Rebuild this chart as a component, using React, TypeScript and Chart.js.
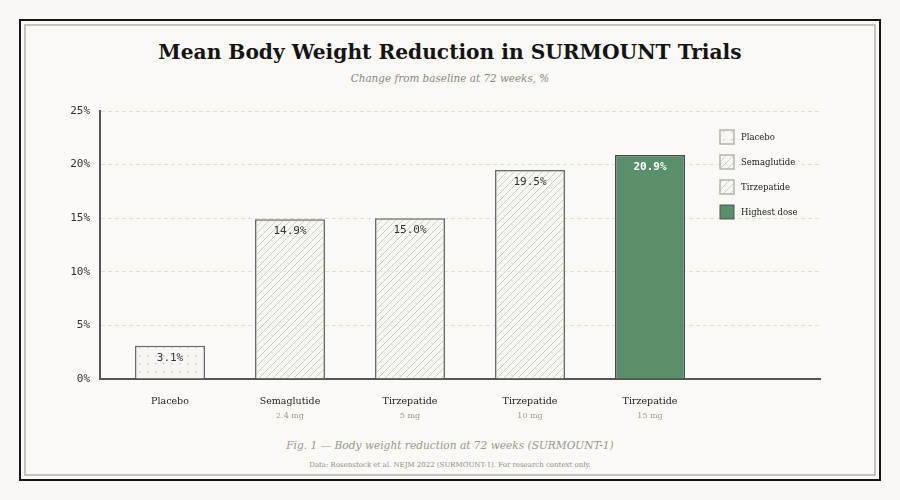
import { useEffect, useRef } from 'react';
import { Chart, registerables } from 'chart.js';

Chart.register(...registerables);

// Trial arms and their mean weight reduction at 72 weeks (%)
const categories = ['Placebo', 'Semaglutide', 'Tirzepatide', 'Tirzepatide', 'Tirzepatide'];
const doses = ['', '2.4 mg', '5 mg', '10 mg', '15 mg'];
const reductions = [3.1, 14.9, 15.0, 19.5, 20.9];
const barKinds = ['dots', 'hatch', 'hatch', 'hatch', 'solid'];
const yTicks = [0, 5, 10, 15, 20, 25];
const legendLabels = ['Placebo', 'Semaglutide', 'Tirzepatide', 'Highest dose'];
const legendKinds = ['dots', 'hatch', 'hatch', 'solid'];

const SERIF = '"DejaVu Serif", Georgia, serif';
const MONO = '"DejaVu Sans Mono", monospace';
const GREEN = '#5a8f6c';
const PAPER = '#f9f8f4';

function hatchPattern(ctx: CanvasRenderingContext2D, bg: string, line: string) {
  const s = 7;
  const c = document.createElement('canvas');
  c.width = s;
  c.height = s;
  const g = c.getContext('2d')!;
  g.fillStyle = bg;
  g.fillRect(0, 0, s, s);
  g.strokeStyle = line;
  g.lineWidth = 1;
  g.beginPath();
  g.moveTo(0, s);
  g.lineTo(s, 0);
  g.moveTo(-1, 1);
  g.lineTo(1, -1);
  g.moveTo(s - 1, s + 1);
  g.lineTo(s + 1, s - 1);
  g.stroke();
  return ctx.createPattern(c, 'repeat')!;
}

function dotPattern(ctx: CanvasRenderingContext2D, bg: string, dot: string) {
  const c = document.createElement('canvas');
  c.width = 8;
  c.height = 8;
  const g = c.getContext('2d')!;
  g.fillStyle = bg;
  g.fillRect(0, 0, 8, 8);
  g.fillStyle = dot;
  g.fillRect(3, 3, 1.5, 1.5);
  return ctx.createPattern(c, 'repeat')!;
}

export default function App() {
  const canvasRef = useRef<HTMLCanvasElement>(null);

  useEffect(() => {
    const canvas = canvasRef.current!;
    const ctx = canvas.getContext('2d')!;
    const fills: Record<string, CanvasPattern | string> = {
      dots: dotPattern(ctx, 'rgba(247,246,242,0.85)', '#cfccc4'),
      hatch: hatchPattern(ctx, 'rgba(247,246,242,0.6)', '#d0cdc5'),
      solid: GREEN,
    };

    const annotate = {
      id: 'annotate',
      afterDatasetsDraw(chart: any) {
        const c = chart.ctx;
        const meta = chart.getDatasetMeta(0);
        c.save();
        c.textAlign = 'center';
        c.textBaseline = 'middle';
        meta.data.forEach((bar: any, i: number) => {
          const solid = barKinds[i] === 'solid';
          c.font = `${solid ? 'bold ' : ''}11px ${MONO}`;
          c.fillStyle = solid ? '#ffffff' : '#333333';
          c.fillText(reductions[i].toFixed(1) + '%', bar.x, bar.y + 12);
        });
        // dose line under each arm name
        const xs = chart.scales.x;
        c.font = `8px ${SERIF}`;
        c.fillStyle = '#9a978f';
        doses.forEach((d, i) => {
          if (d) c.fillText(d, xs.getPixelForValue(i), 416);
        });
        c.restore();
      },
      afterDraw(chart: any) {
        const c = chart.ctx;
        c.save();
        legendLabels.forEach((label, i) => {
          const y = 137 + i * 25;
          const kind = legendKinds[i];
          c.fillStyle = fills[kind];
          c.fillRect(720, y - 7, 14, 14);
          c.lineWidth = kind === 'solid' ? 1 : 1.5;
          c.strokeStyle = kind === 'solid' ? '#555555' : '#b5b2ab';
          c.strokeRect(720, y - 7, 14, 14);
          c.font = `8.5px ${SERIF}`;
          c.fillStyle = '#222222';
          c.textAlign = 'left';
          c.textBaseline = 'middle';
          c.fillText(label, 741, y + 0.5);
        });
        c.restore();
      },
    };

    const chart = new Chart(canvas, {
      type: 'bar',
      data: {
        datasets: [
          {
            data: reductions.map((v, i) => ({ x: i, y: v })),
            backgroundColor: barKinds.map((k) => fills[k]),
            borderColor: barKinds.map((k) => (k === 'solid' ? '#4a4a4a' : '#6a6a6a')),
            borderWidth: 1.5,
            barPercentage: 70 / 120,
            categoryPercentage: 1,
          },
        ],
      },
      options: {
        responsive: false,
        animation: false,
        events: [],
        layout: { padding: { left: 40, right: 80, top: 111, bottom: 0 } },
        plugins: { legend: { display: false }, tooltip: { enabled: false }, title: { display: false } },
        scales: {
          x: {
            type: 'linear',
            offset: false,
            min: -70 / 120,
            max: 6 - 70 / 120,
            afterBuildTicks: (scale: any) => {
              scale.ticks = categories.map((_, i) => ({ value: i }));
            },
            afterFit: (scale: any) => {
              scale.height = 121;
            },
            grid: { display: false, drawTicks: false },
            border: { display: true, color: '#555555', width: 2 },
            ticks: {
              autoSkip: false,
              maxRotation: 0,
              padding: 17,
              color: '#222222',
              font: { family: SERIF, size: 9.5 },
              callback: (_v: any, idx: number) => categories[idx] ?? '',
            },
          },
          y: {
            min: 0,
            max: 25,
            afterBuildTicks: (scale: any) => {
              scale.ticks = yTicks.map((v) => ({ value: v }));
            },
            afterFit: (scale: any) => {
              scale.width = 60;
            },
            grid: { color: '#e0ddd6', lineWidth: 1, drawTicks: false },
            border: { display: true, color: '#555555', width: 2, dash: [4, 3] },
            ticks: {
              padding: 10,
              color: '#333333',
              font: { family: MONO, size: 11 },
              callback: (v: any) => v + '%',
            },
          },
        },
      },
      plugins: [annotate],
    } as any);

    return () => chart.destroy();
  }, []);

  const text = (top: number, size: number, extra: React.CSSProperties) => ({
    position: 'absolute' as const,
    left: 0,
    width: 900,
    top: top - size / 2,
    fontSize: size,
    lineHeight: `${size}px`,
    textAlign: 'center' as const,
    fontFamily: SERIF,
    whiteSpace: 'nowrap' as const,
    ...extra,
  });

  return (
    <div style={{ position: 'fixed', left: 0, top: 0, width: 900, height: 500, background: PAPER, overflow: 'hidden' }}>
      <div style={{ position: 'absolute', left: 19, top: 19, width: 858, height: 458, border: '2px solid #161616' }} />
      <div style={{ position: 'absolute', left: 24, top: 24, width: 848, height: 448, border: '2px solid #c4c2bc', background: '#faf9f6' }} />
      <div style={text(52, 20.2, { fontWeight: 'bold', color: '#141414' })}>Mean Body Weight Reduction in SURMOUNT Trials</div>
      <div style={text(78, 10.4, { fontStyle: 'italic', color: '#8a8780' })}>Change from baseline at 72 weeks, %</div>
      <div style={text(445, 10.6, { fontStyle: 'italic', color: '#9a978f' })}>Fig. 1 — Body weight reduction at 72 weeks (SURMOUNT-1)</div>
      <div style={text(465, 7, { color: '#8f8c85' })}>Data: Rosenstock et al. NEJM 2022 (SURMOUNT-1). For research context only.</div>
      <canvas ref={canvasRef} width={900} height={500} style={{ position: 'absolute', left: 0, top: 0 }} />
    </div>
  );
}
